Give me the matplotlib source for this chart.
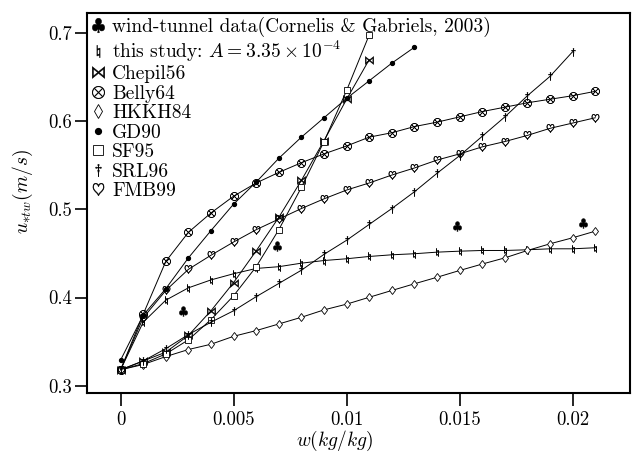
import numpy as np
import matplotlib
matplotlib.use("Agg")
import matplotlib.pyplot as plt

plt.rcParams['font.family'] = 'cmr10'
plt.rcParams['mathtext.fontset'] = 'cm'
plt.rcParams['axes.unicode_minus'] = False
plt.rcParams['axes.formatter.use_mathtext'] = True

# moisture steps
w = np.arange(22) * 0.001

wind_w = [0.00277, 0.0069, 0.01487, 0.02047]
wind_u = [0.3845, 0.459, 0.4807, 0.4844]

study_u = [0.318, 0.372, 0.397, 0.411, 0.420, 0.427, 0.433, 0.435, 0.439, 0.442, 0.444,
           0.4466, 0.4485, 0.4497, 0.4515, 0.4526, 0.4534, 0.4534, 0.4542, 0.4553, 0.4553, 0.4565]
chepil_u = [0.318, 0.328, 0.338, 0.357, 0.385, 0.417, 0.453, 0.491, 0.533, 0.578, 0.625, 0.670]
belly_u = [0.318, 0.381, 0.441, 0.474, 0.496, 0.515, 0.530, 0.542, 0.553, 0.563, 0.572,
           0.582, 0.587, 0.594, 0.599, 0.605, 0.611, 0.616, 0.621, 0.625, 0.629, 0.634]
hkkh_u = [0.318, 0.324, 0.333, 0.341, 0.347, 0.356, 0.3625, 0.370, 0.3776, 0.386, 0.3925,
          0.4003, 0.408, 0.4156, 0.423, 0.4307, 0.438, 0.445, 0.4534, 0.461, 0.4678, 0.4753]
gd_u = [0.329, 0.380, 0.410, 0.445, 0.476, 0.506, 0.531, 0.558, 0.582, 0.604, 0.626,
        0.646, 0.666, 0.684]
sf_u = [0.318, 0.325, 0.336, 0.352, 0.375, 0.402, 0.435, 0.477, 0.525, 0.577, 0.635, 0.698]
srl_u = [0.318, 0.328, 0.342, 0.358, 0.372, 0.385, 0.401, 0.416, 0.431, 0.449, 0.465,
         0.483, 0.501, 0.520, 0.541, 0.561, 0.583, 0.605, 0.629, 0.651, 0.679]
fmb_u = [0.318, 0.377, 0.408, 0.432, 0.448, 0.463, 0.477, 0.489, 0.501, 0.512, 0.522,
         0.530, 0.539, 0.547, 0.556, 0.563, 0.571, 0.577, 0.584, 0.592, 0.598, 0.604]

fig = plt.figure(figsize=(6.39, 4.54), dpi=100)
ax = fig.add_axes([0.136, 0.135, 0.850, 0.837])

lw = 0.7
ms = 6
mw = 0.35
ax.plot(wind_w, wind_u, ls='none', marker=r'$\clubsuit$', ms=7, mew=mw, color='k',
        label='wind-tunnel data(Cornelis & Gabriels, 2003)')
ax.plot(w[:len(study_u)], study_u, '-', lw=lw, color='k', marker=r'$\natural$', ms=ms,
        mew=mw, label=r'this study: $A = 3.35\times10^{-4}$')
ax.plot(w[:len(chepil_u)], chepil_u, '-', lw=lw, color='k', marker=r'$\bowtie$', ms=ms,
        mew=mw, label='Chepil56')
ax.plot(w[:len(belly_u)], belly_u, '-', lw=lw, color='k', marker=r'$\otimes$', ms=ms,
        mew=mw, label='Belly64')
ax.plot(w[:len(hkkh_u)], hkkh_u, '-', lw=lw, color='k', marker='d', ms=4.5, mfc='white',
        mew=0.6, label='HKKH84')
ax.plot(w[:len(gd_u)], gd_u, '-', lw=lw, color='k', marker='o', ms=2.8, label='GD90')
ax.plot(w[:len(sf_u)], sf_u, '-', lw=lw, color='k', marker='s', ms=5, mfc='white',
        mew=0.6, label='SF95')
ax.plot(w[:len(srl_u)], srl_u, '-', lw=lw, color='k', marker=r'$\dagger$', ms=ms,
        mew=mw, label='SRL96')
ax.plot(w[:len(fmb_u)], fmb_u, '-', lw=lw, color='k', marker=r'$\heartsuit$', ms=ms,
        mew=mw, label='FMB99')

ax.set_xlim(-0.00149, 0.02254)
ax.set_ylim(0.292, 0.7232)
ax.set_xticks([0, 0.005, 0.01, 0.015, 0.02])
ax.set_xticklabels(['0', '0.005', '0.01', '0.015', '0.02'])
ax.set_yticks([0.3, 0.4, 0.5, 0.6, 0.7])
ax.set_yticklabels(['0.3', '0.4', '0.5', '0.6', '0.7'])
ax.tick_params(direction='out', length=9, width=1.2, labelsize=13.5)
ax.tick_params(axis='x', pad=4)
ax.tick_params(axis='y', pad=2)
for s in ax.spines.values():
    s.set_linewidth(1.5)

ax.set_xlabel(r'$w(kg/kg)$', fontsize=14)
ax.set_ylabel(r'$u_{*tw}(m/s)$', fontsize=14)
ax.xaxis.set_label_coords(0.457, -0.095)
ax.yaxis.set_label_coords(-0.095, 0.53)

leg = ax.legend(loc='upper left', frameon=False, fontsize=14, handlelength=0.7,
                handletextpad=0.4, labelspacing=0.08, borderaxespad=0.1,
                borderpad=0.1, markerscale=1.5)
for h in leg.legend_handles:
    h.set_linestyle('none')

fig.savefig('out.png', dpi=100)
